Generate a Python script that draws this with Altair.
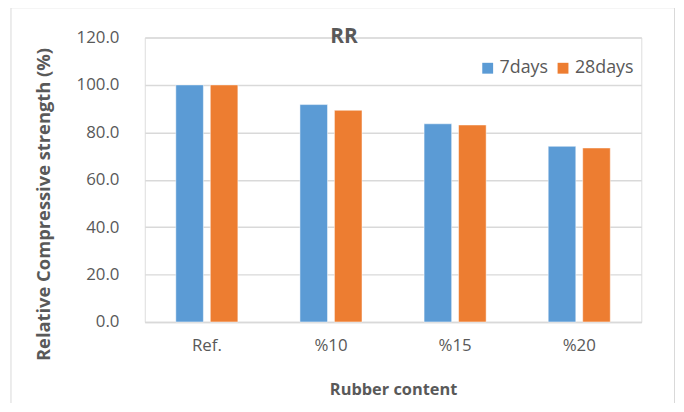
import altair as alt
import pandas as pd

categories = ["Ref.", "%10", "%15", "%20"]
series = ["7days", "28days"]
values_7 = [100.0, 91.7, 83.6, 74.1]
values_28 = [100.0, 89.3, 83.1, 73.4]
colors = ["#5B9BD5", "#ED7D31"]

rows = []
for c, v7, v28 in zip(categories, values_7, values_28):
    rows.append({"cat": c, "series": "7days", "val": v7})
    rows.append({"cat": c, "series": "28days", "val": v28})
df = pd.DataFrame(rows)

FONT = "Open Sans"
GRAY = "#595959"

bars = alt.Chart(df).mark_bar(stroke="white", strokeWidth=0.5).encode(
    x=alt.X("cat:N", sort=categories,
            scale=alt.Scale(paddingInner=0.5, paddingOuter=0.25),
            axis=alt.Axis(title="Rubber content", labelAngle=0, labelFontSize=17,
                          labelColor=GRAY, labelFont=FONT, labelPadding=16,
                          ticks=False, domain=True, domainColor="#d9d9d9", domainWidth=1.5,
                          titleFont=FONT, titleFontSize=16.5, titleFontWeight="bold",
                          titleColor=GRAY, titleY=73, titleBaseline="alphabetic")),
    xOffset=alt.XOffset("series:N", sort=series,
                        scale=alt.Scale(paddingInner=0.2, paddingOuter=0)),
    y=alt.Y("val:Q", scale=alt.Scale(domain=[0, 120]),
            axis=alt.Axis(title="Relative Compressive strength (%)", values=[0, 20, 40, 60, 80, 100, 120],
                          format=".1f", labelFontSize=17, labelColor=GRAY, labelFont=FONT,
                          labelPadding=26, ticks=False, domain=False,
                          gridColor="#d9d9d9", gridWidth=1.5,
                          titleFont=FONT, titleFontSize=18.5, titleFontWeight="bold",
                          titleColor=GRAY, titleX=-102, titleY=168, titleAngle=270,
                          titleAlign="center", titleBaseline="middle")),
    color=alt.Color("series:N", sort=series,
                    scale=alt.Scale(domain=series, range=colors),
                    legend=alt.Legend(title=None, orient="none", legendX=337, legendY=22,
                                      direction="horizontal", symbolType="square",
                                      symbolSize=120, symbolStrokeWidth=0,
                                      labelFontSize=18, labelColor=GRAY, labelFont=FONT,
                                      columnPadding=6, labelOffset=3)),
)

title = alt.Chart(pd.DataFrame({"t": ["RR"]})).mark_text(
    fontSize=21, fontWeight="bold", font=FONT, color=GRAY, baseline="alphabetic"
).encode(text="t:N", x=alt.value(201), y=alt.value(6))

frame = alt.Chart(pd.DataFrame({"a": [0]})).mark_rect(
    fill=None, stroke="#d9d9d9", strokeWidth=1, clip=False
).encode(x=alt.value(-135), x2=alt.value(534.5), y=alt.value(-30), y2=alt.value(420))

chart = alt.layer(frame, bars, title).properties(
    width=501, height=287,
    autosize=alt.AutoSizeParams(type="none"),
    padding={"left": 138, "top": 28, "right": 35, "bottom": 80},
).configure_view(stroke=None).configure(background="white")

chart.save("out.html", embed_options={"renderer": "svg", "actions": False})
